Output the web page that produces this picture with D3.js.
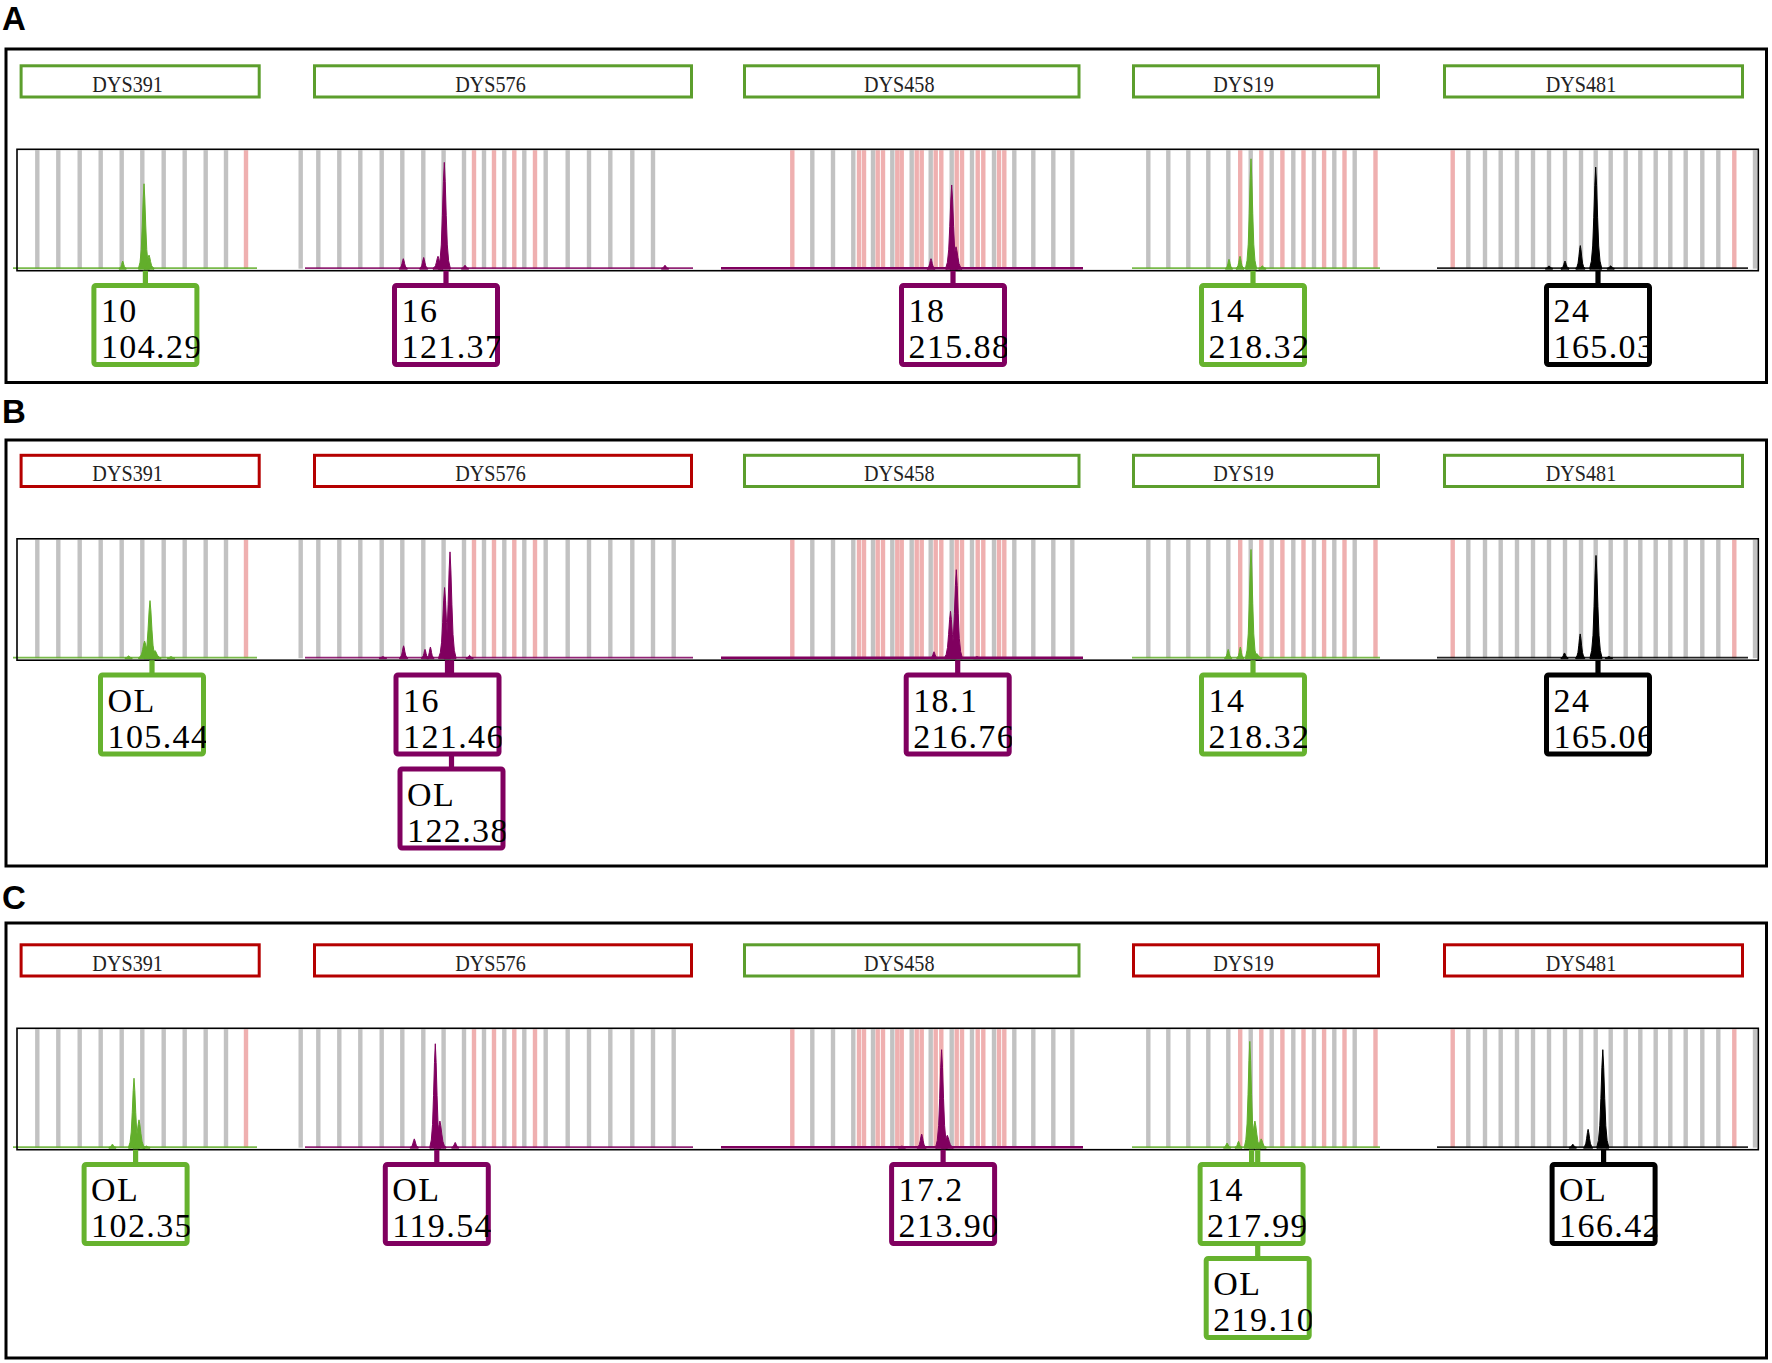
<!DOCTYPE html>
<html><head><meta charset="utf-8">
<script src="https://cdn.jsdelivr.net/npm/d3@7"></script>
<style>body{margin:0;background:#fff}svg{display:block}</style>
</head><body>
<svg id="chart" width="1772" height="1363"></svg>
<script>
// ---------------- DATA ----------------
const panels = ["A", "B", "C"];
const loci = ["DYS391", "DYS576", "DYS458", "DYS19", "DYS481"];
const locusDye = ["green", "purple", "purple", "green", "black"];
// locus window (scan units) used for the header boxes
const locusBoxStart = [2.6, 296, 726, 1115, 1426];
const locusBoxEnd = [243.7, 676, 1063.5, 1363, 1727];
// extent of the drawn trace per locus (scan units)
const traceStart = [-4, 288, 704, 1115, 1420];
const traceEnd = [240, 676, 1066, 1363, 1731];
// locus status per panel: pass (green header) / fail (red header)
const statusA = ["pass", "pass", "pass", "pass", "pass"];
const statusB = ["fail", "fail", "pass", "pass", "pass"];
const statusC = ["fail", "fail", "pass", "fail", "fail"];

// allelic-ladder bins (scan units)
const binsGray = [
  [20.3, 41.3, 62.7, 83.7, 104.7, 125.3, 146.7, 167.7, 188.7, 209],
  [283.7, 301.3, 322.3, 343.3, 364.7, 385.3, 406.3, 426.6, 447, 467, 487.3, 507.3, 528.7, 550.7, 572, 593.3, 615.3, 636],
  [795.3, 816, 836.3, 856, 875.3, 894.7, 913.7, 934.7, 955, 977, 997.3, 1016.3, 1036.3, 1055.3],
  [1131.3, 1151.3, 1171.3, 1191.3, 1211.3, 1233.7, 1254.7, 1276.3, 1297, 1317.3, 1337.7],
  [1451.3, 1468, 1483.7, 1500, 1516, 1532, 1548, 1564, 1578.7, 1593.7, 1608.7, 1623.3, 1638.7, 1653.3, 1668.7, 1685.3, 1701.3, 1738]
];
// extra ladder bin shown only in panels B and C (DYS576)
const binsGrayExtraBC = [656.7];
const binsPink = [
  [229],
  [457, 477, 497.3, 518],
  [775.3, 842, 847, 860.7, 866, 880.3, 884.7, 899.7, 904.7, 918.7, 924.3, 939.7, 945, 960.7, 966.3, 982, 987.3],
  [1223.2, 1244.3, 1265.4, 1286.5, 1307.1, 1327.5, 1358.5],
  [1435.7, 1717.3]
];

// peaks: [scan position, relative height %, half width]
const peaksA = [
  [[105.7, 6, 3.5], [127, 71, 5.5], [132, 11, 5]],
  [[386.3, 8, 4], [406.7, 9, 4], [421, 10, 5], [427.3, 89, 6], [448, 2.5, 3.5], [648, 2.5, 3.5]],
  [[914, 8, 4], [934.7, 70, 6], [939, 18, 6]],
  [[1212, 7.5, 3.5], [1223, 10, 4], [1234, 92, 5.5], [1245.3, 2, 3.5]],
  [[1532, 2, 3.5], [1548, 6, 4], [1563.3, 19, 4.5], [1578.7, 85, 6], [1593.7, 2, 3.5]]
];
const peaksB = [
  [[111.6, 1.5, 3.5], [127.6, 14, 6], [133, 48, 6], [138, 6, 6], [154, 1, 3.5]],
  [[365.9, 1, 3.5], [386.6, 10, 4], [408, 7, 3.5], [413.4, 9, 3.5], [427.6, 59, 6], [433, 89, 6], [452.6, 2, 3.5]],
  [[917, 5, 3.5], [933.5, 39, 6], [939.3, 74, 6], [960, 1, 3.5]],
  [[1211.2, 7, 3.5], [1223.3, 9, 3.5], [1234, 91, 5.5], [1239.8, 3.5, 5]],
  [[1547.5, 4, 3.5], [1563.2, 20, 4.5], [1579, 86, 6], [1591.9, 1, 3.5]]
];
const peaksC = [
  [[95.4, 2.5, 3.5], [117, 58, 5.5], [122, 23, 6], [129.4, 1, 3.5]],
  [[397.3, 7, 4], [418.3, 87, 5.5], [422.9, 22, 6], [438.2, 4, 3.5]],
  [[884.9, 1, 3.5], [904.7, 11, 4.5], [924.6, 82, 6], [930.3, 10, 6]],
  [[1210.1, 3.5, 3.5], [1221.5, 5, 3.5], [1232.8, 89, 5.5], [1237.9, 22, 6], [1244.2, 7, 5]],
  [[1555.8, 2.5, 3.5], [1571.1, 15, 4.5], [1585.8, 82, 6]]
];

// allele calls: [locus index, scan position, row, allele, size]
const callsA = [
  [0, 128.4, 0, "10", "104.29"],
  [1, 429, 0, "16", "121.37"],
  [2, 936, 0, "18", "215.88"],
  [3, 1236, 0, "14", "218.32"],
  [4, 1581, 0, "24", "165.03"]
];
const callsB = [
  [0, 135, 0, "OL", "105.44"],
  [1, 434.5, 1, "OL", "122.38"],
  [1, 430.5, 0, "16", "121.46"],
  [2, 940.7, 0, "18.1", "216.76"],
  [3, 1236, 0, "14", "218.32"],
  [4, 1581, 0, "24", "165.06"]
];
const callsC = [
  [0, 118.6, 0, "OL", "102.35"],
  [1, 419.8, 0, "OL", "119.54"],
  [2, 926.1, 0, "17.2", "213.90"],
  [3, 1240.7, 1, "OL", "219.10"],
  [3, 1234.6, 0, "14", "217.99"],
  [4, 1586.6, 0, "OL", "166.42"]
];

// ---------------- STYLE / LAYOUT ----------------
const dyeColor = {green: "#62ae2b", purple: "#80005f", black: "#000000"};
const boxColor = {green: "#66b22e", purple: "#80005f", black: "#000000"};
const statusColor = {pass: "#5c9e2d", fail: "#b50000"};
const grayBin = "#c2c2c2", pinkBin = "#efb0b0";
const binW = 4.4;

const panelDy = [0, 389.5, 879];
const outerTop = [47.5, 438.5, 921.5];
const outerBottom = [384, 867.5, 1359.5];
const labelBase = [30, 423, 909];

const frameLeft = 17, frameRight = 1758.3;
const frameTop0 = 149.3, frameBottom0 = 270.7;
const locusTop0 = 64.3, locusBottom0 = 98.5;
const alleleTop0 = 283, alleleH = 84, alleleW = 108, rowGap = 10;

const peakProfile = [[-1, 0], [-0.72, 0.07], [-0.5, 0.22], [-0.32, 0.5], [-0.15, 0.82], [0, 1],
                     [0.15, 0.82], [0.32, 0.5], [0.5, 0.22], [0.72, 0.07], [1, 0]];

const x = d3.scaleLinear().domain([0, 1741.3]).range([frameLeft, frameRight]);

const svg = d3.select("#chart");
svg.append("rect").attr("width", 1772).attr("height", 1363).attr("fill", "#fff");
const defs = svg.append("defs");

const statuses = [statusA, statusB, statusC];
const peaksAll = [peaksA, peaksB, peaksC];
const callsAll = [callsA, callsB, callsC];

panels.forEach((p, pi) => {
  const dy = panelDy[pi];
  const g = svg.append("g");
  // panel letter
  g.append("text").attr("x", 2).attr("y", labelBase[pi])
    .attr("font-family", "Liberation Sans, Arial, sans-serif").attr("font-weight", "bold")
    .attr("font-size", 33).attr("fill", "#000").text(p);
  // panel outer box
  g.append("rect").attr("x", 6).attr("y", outerTop[pi] + 1.5)
    .attr("width", 1760.5).attr("height", outerBottom[pi] - outerTop[pi] - 3)
    .attr("fill", "none").attr("stroke", "#000").attr("stroke-width", 3);

  // locus header boxes
  loci.forEach((name, li) => {
    const x0 = x(locusBoxStart[li]), x1 = x(locusBoxEnd[li]);
    const top = locusTop0 + dy, bot = locusBottom0 + dy;
    g.append("rect").attr("x", x0 + 1.5).attr("y", top + 1.5)
      .attr("width", x1 - x0 - 3).attr("height", bot - top - 3)
      .attr("fill", "#fff").attr("stroke", statusColor[statuses[pi][li]]).attr("stroke-width", 3);
    const cx = (x0 + x1) / 2 - 12.5;
    g.append("text")
      .attr("transform", `translate(${cx},${top + 27.5}) scale(0.84,1)`)
      .attr("text-anchor", "middle")
      .attr("font-family", "Liberation Serif, Times New Roman, serif")
      .attr("font-size", 24).attr("fill", "#222").text(name);
  });

  const fTop = frameTop0 + dy, fBot = frameBottom0 + dy;
  const baseY = fBot - 2.5;
  const y = d3.scaleLinear().domain([0, 100]).range([baseY, fTop]);

  // bins
  const binG = g.append("g");
  loci.forEach((name, li) => {
    let grays = binsGray[li].slice();
    if (li === 1 && pi > 0) grays = grays.concat(binsGrayExtraBC);
    binG.selectAll(null).data(grays).enter().append("rect")
      .attr("x", d => x(d) - binW / 2).attr("y", fTop + 1).attr("width", binW)
      .attr("height", fBot - fTop - 3).attr("fill", grayBin);
    binG.selectAll(null).data(binsPink[li]).enter().append("rect")
      .attr("x", d => x(d) - binW / 2).attr("y", fTop + 1).attr("width", binW)
      .attr("height", fBot - fTop - 3).attr("fill", pinkBin);
  });

  // traces
  const area = d3.area().x(d => d[0]).y0(baseY + 1).y1(d => d[1]);
  loci.forEach((name, li) => {
    const col = dyeColor[locusDye[li]];
    g.append("line").attr("x1", x(traceStart[li])).attr("x2", x(traceEnd[li]))
      .attr("y1", baseY).attr("y2", baseY)
      .attr("stroke", col).attr("stroke-width", li === 2 ? 2.6 : 1.8).attr("opacity", li === 2 ? 1 : 0.85);
    peaksAll[pi][li].forEach(pk => {
      const pts = peakProfile.map(([o, h]) => [x(pk[0]) + o * pk[2], y(pk[1] * h)]);
      g.append("path").attr("d", area(pts)).attr("fill", col).attr("stroke", col).attr("stroke-width", 1);
    });
  });

  // frame
  g.append("rect").attr("x", frameLeft).attr("y", fTop).attr("width", frameRight - frameLeft)
    .attr("height", fBot - fTop).attr("fill", "none").attr("stroke", "#000").attr("stroke-width", 1.6);

  // allele calls: connectors first, then boxes
  const calls = callsAll[pi];
  calls.forEach(c => {
    const col = boxColor[locusDye[c[0]]];
    const top = alleleTop0 + dy + c[2] * (alleleH + rowGap);
    g.append("rect").attr("x", x(c[1]) - 2.6).attr("y", fBot).attr("width", 5.2)
      .attr("height", top - fBot + 2).attr("fill", col);
  });
  calls.forEach((c, ci) => {
    const col = boxColor[locusDye[c[0]]];
    const cx = x(c[1]);
    const top = alleleTop0 + dy + c[2] * (alleleH + rowGap);
    const left = cx - alleleW / 2;
    const id = `clip${pi}_${ci}`;
    defs.append("clipPath").attr("id", id).append("rect")
      .attr("x", left).attr("y", top).attr("width", alleleW).attr("height", alleleH);
    g.append("rect").attr("x", left + 2.5).attr("y", top + 2.5)
      .attr("width", alleleW - 5).attr("height", alleleH - 5).attr("rx", 2)
      .attr("fill", "#fff").attr("stroke", col).attr("stroke-width", 5);
    const t = g.append("text").attr("clip-path", `url(#${id})`)
      .attr("font-family", "Liberation Serif, Times New Roman, serif")
      .attr("font-size", 34).attr("letter-spacing", 1.4).attr("fill", "#000");
    t.append("tspan").attr("x", left + 9.5).attr("y", top + 39).text(c[3]);
    t.append("tspan").attr("x", left + 9.5).attr("y", top + 75).text(c[4]);
  });
});
</script>
</body></html>
